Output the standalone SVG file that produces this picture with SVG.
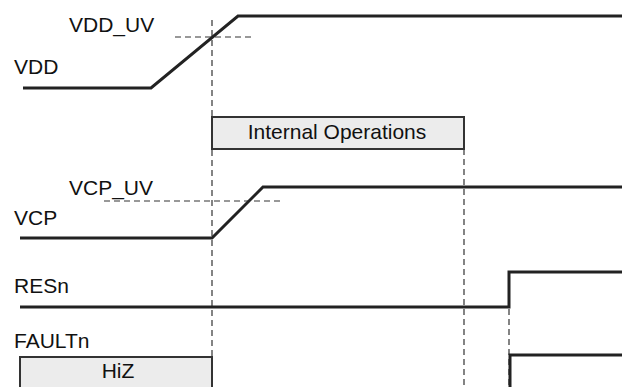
<svg xmlns="http://www.w3.org/2000/svg" width="622" height="387" viewBox="0 0 622 387">
<style>
text{font-family:"Liberation Sans",Arial,sans-serif;font-size:21px;fill:#111}
.sig{fill:none;stroke:#222;stroke-width:3;stroke-linejoin:miter}
.dash{fill:none;stroke:#333;stroke-width:1.2;stroke-dasharray:6,4}
.box{fill:#ececec;stroke:#333;stroke-width:2}
</style>
<rect width="622" height="387" fill="#fff"/>
<g id="guides">
<line class="dash" x1="212" y1="20" x2="212" y2="387"/>
<line class="dash" x1="464" y1="149" x2="464" y2="387"/>
<line class="dash" x1="509" y1="309" x2="509" y2="387"/>
<line class="dash" x1="175" y1="37" x2="255" y2="37"/>
<line class="dash" x1="104" y1="201" x2="282" y2="201"/>
</g>
<g id="vdd">
<text x="14" y="74">VDD</text>
<text x="69" y="32">VDD_UV</text>
<polyline class="sig" points="23,88 151,88 238,16 622,16"/>
</g>
<g id="internal-ops">
<rect class="box" x="212" y="117" width="252" height="32"/>
<text x="337" y="139" text-anchor="middle">Internal Operations</text>
</g>
<g id="vcp">
<text x="14" y="225">VCP</text>
<text x="69" y="195">VCP_UV</text>
<polyline class="sig" points="20,238 212,238 263,187 622,187"/>
</g>
<g id="resn">
<text x="14" y="293">RESn</text>
<polyline class="sig" points="20,307 509,307 509,272 622,272"/>
</g>
<g id="faultn">
<text x="14" y="348">FAULTn</text>
<rect class="box" x="20" y="357" width="192" height="40"/>
<text x="118" y="378" text-anchor="middle">HiZ</text>
<polyline class="sig" points="510,390 510,355 622,355"/>
</g>
</svg>
